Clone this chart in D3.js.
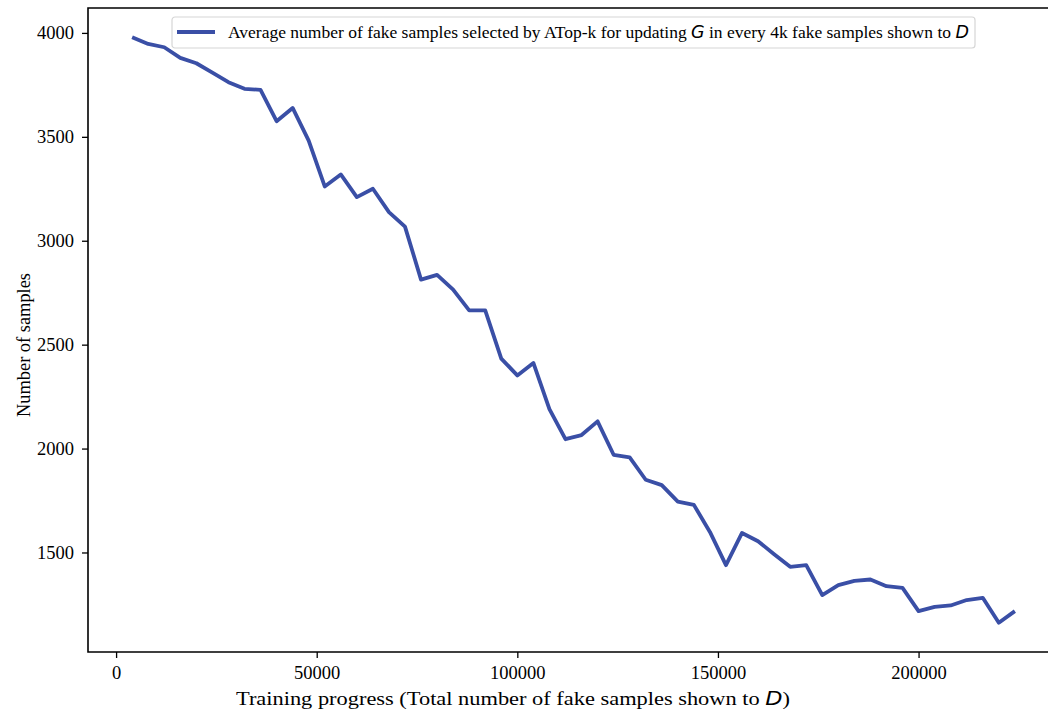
<!DOCTYPE html>
<html>
<head>
<meta charset="utf-8">
<script src="https://cdn.jsdelivr.net/npm/d3@7"></script>
<style>
  body { margin: 0; background: #fff; }
  svg text { font-family: "Liberation Serif", "Times New Roman", serif; fill: #000; }
  .math { font-family: "DejaVu Sans", sans-serif; font-style: italic; }
</style>
</head>
<body>
<svg id="chart"></svg>
<script>
// шаг обучения (каждые 4k фейковых образцов)
const steps = d3.range(1, 57).map(i => i * 4000);
// среднее число выбранных образцов
const counts = [
  3979, 3947, 3931, 3880, 3854, 3809, 3763, 3731, 3726, 3575,
  3639, 3482, 3261, 3319, 3210, 3250, 3138, 3068, 2813, 2836,
  2765, 2665, 2665, 2433, 2352, 2412, 2190, 2045, 2065, 2131,
  1970, 1958, 1850, 1824, 1745, 1729, 1599, 1439, 1594, 1554,
  1492, 1431, 1439, 1295, 1343, 1363, 1370, 1338, 1330, 1218,
  1238, 1245, 1271, 1282, 1162, 1218
];
const xTicks = [0, 50000, 100000, 150000, 200000];
const yTicks = [1500, 2000, 2500, 3000, 3500, 4000];
const legendLabel = ["Average number of fake samples selected by ATop-k for updating ", "G", " in every 4k fake samples shown to ", "D"];
const xLabel = ["Training progress (Total number of fake samples shown to ", "D", ")"];
const yLabel = "Number of samples";

const svgWidth = 1048, svgHeight = 713;
const margin = {top: 8, right: -11, bottom: 61, left: 88};
const width = svgWidth - margin.left - margin.right;
const height = svgHeight - margin.top - margin.bottom;

const svg = d3.select("#chart").attr("width", svgWidth).attr("height", svgHeight);
const g = svg.append("g").attr("transform", `translate(${margin.left},${margin.top})`);

// поля как в matplotlib (5%)
const xPad = (d3.max(steps) - d3.min(steps)) * 0.05;
const yPad = (d3.max(counts) - d3.min(counts)) * 0.05;

const x = d3.scaleLinear()
  .domain([d3.min(steps) - xPad, d3.max(steps) + xPad])
  .range([0, width]);
const y = d3.scaleLinear()
  .domain([d3.min(counts) - yPad, d3.max(counts) + yPad])
  .range([height, 0]);

const xAxis = g.append("g").attr("transform", `translate(0,${height})`)
  .call(d3.axisBottom(x).tickValues(xTicks).tickFormat(d3.format("d")).tickSizeOuter(0).tickSize(6).tickPadding(8));
const yAxis = g.append("g")
  .call(d3.axisLeft(y).tickValues(yTicks).tickFormat(d3.format("d")).tickSizeOuter(0).tickSize(6).tickPadding(8));

[xAxis, yAxis].forEach(a => {
  a.select(".domain").remove();
  a.selectAll(".tick line").attr("stroke", "#000").attr("stroke-width", 1.3);
  a.selectAll(".tick text").style("font-family", "Liberation Serif").style("font-size", "18.5px").attr("fill", "#000");
});

// рамка
g.append("path")
  .attr("d", `M${width},0H0V${height}H${width}`)
  .attr("fill", "none").attr("stroke", "#000").attr("stroke-width", 1.6);

const line = d3.line()
  .x((d, i) => x(steps[i]))
  .y(d => y(d));

g.append("path")
  .datum(counts)
  .attr("d", line)
  .attr("fill", "none")
  .attr("stroke", "#3a4fa6")
  .attr("stroke-width", 3.8)
  .attr("stroke-linejoin", "round");

// легенда
const leg = g.append("g").attr("transform", "translate(84,9)");
leg.append("rect")
  .attr("width", 803).attr("height", 31).attr("rx", 3)
  .attr("fill", "#fff").attr("stroke", "#d6d6d6").attr("stroke-width", 1.2);
leg.append("line")
  .attr("x1", 5).attr("x2", 43).attr("y1", 15).attr("y2", 15)
  .attr("stroke", "#3a4fa6").attr("stroke-width", 3.8);
const lt = leg.append("text").attr("x", 56).attr("y", 21).style("font-size", "17.5px");
legendLabel.forEach((s, i) => {
  lt.append("tspan").attr("class", i % 2 ? "math" : null).text(s);
});

// подписи осей
const xl = svg.append("text")
  .attr("x", 236).attr("y", 705)
  .style("font-size", "19.5px")
  .attr("textLength", 554).attr("lengthAdjust", "spacingAndGlyphs");
xLabel.forEach((s, i) => {
  xl.append("tspan").attr("class", i === 1 ? "math" : null).text(s);
});

svg.append("text")
  .attr("transform", "translate(30,417) rotate(-90)")
  .style("font-size", "18px")
  .attr("textLength", 144).attr("lengthAdjust", "spacingAndGlyphs")
  .text(yLabel);
</script>
</body>
</html>
